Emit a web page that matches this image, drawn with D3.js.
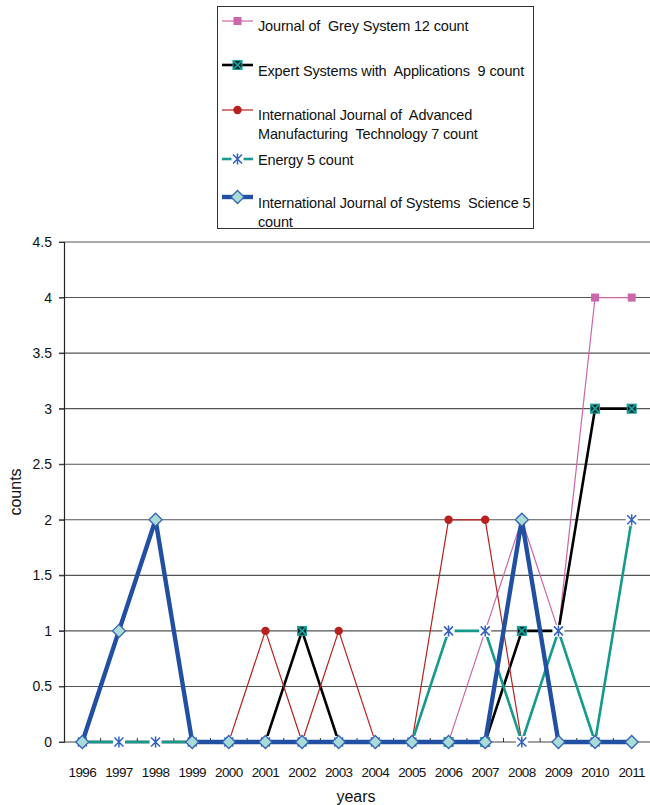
<!DOCTYPE html>
<html><head><meta charset="utf-8">
<script src="https://cdn.jsdelivr.net/npm/d3@7/dist/d3.min.js"></script>
<style>body{margin:0;background:#fff}svg{display:block;font-family:"Liberation Sans",Arial,sans-serif}</style>
</head><body><svg id="c" width="650" height="805"></svg>
<script>
const years = ["1996","1997","1998","1999","2000","2001","2002","2003","2004","2005","2006","2007","2008","2009","2010","2011"];
const greySystem   = [0,0,0,0,0,0,0,0,0,0,0,1,2,1,4,4];
const expertSys    = [0,0,0,0,0,0,1,0,0,0,0,0,1,1,3,3];
const ijamt        = [0,0,0,0,0,1,0,1,0,0,2,2,0,null,null,null];
const energy       = [0,0,0,0,0,0,0,0,0,0,1,1,0,1,0,2];
const ijss         = [0,1,2,0,0,0,0,0,0,0,0,0,2,0,0,0];
const yTicks = [0,0.5,1,1.5,2,2.5,3,3.5,4,4.5];
const seriesNames = [
  ["Journal of  Grey System 12 count"],
  ["Expert Systems with  Applications  9 count"],
  ["International Journal of  Advanced","Manufacturing  Technology 7 count"],
  ["Energy 5 count"],
  ["International Journal of Systems  Science 5","count"]
];

const series = [
  {vals: greySystem, color:"#CC66AA", width:1.2, marker:"square"},
  {vals: expertSys,  color:"#000000", width:2.6, marker:"xsquare"},
  {vals: ijamt,      color:"#B8201E", width:1.2, marker:"circle"},
  {vals: energy,     color:"#159A8C", width:2.6, marker:"star"},
  {vals: ijss,       color:"#2150A3", width:4.4, marker:"diamond"}
];

const svg = d3.select("#c");
const L=64, R=650, T=242, B=742;
const x = d3.scaleBand().domain(years).range([L,R]);
const y = d3.scaleLinear().domain([0,4.5]).range([B,T]);

svg.append("g").selectAll("line").data(yTicks.filter(d=>d>0)).join("line")
  .attr("x1",L-5).attr("x2",R).attr("y1",d=>y(d)).attr("y2",d=>y(d))
  .attr("stroke","#555").attr("stroke-width",1.1);

const yAxis = d3.axisLeft(y).tickValues(yTicks).tickSize(5).tickPadding(7).tickFormat(d=>String(d));
const gy = svg.append("g").attr("transform",`translate(${L},0)`).call(yAxis);
gy.select(".domain").attr("stroke","#222").attr("stroke-width",1.2);
gy.selectAll(".tick line").attr("stroke","#333");
gy.selectAll("text").attr("font-size","14px").attr("fill","#111").attr("font-family","Liberation Sans, Arial, sans-serif");

svg.append("line").attr("x1",L-5).attr("x2",R).attr("y1",B).attr("y2",B).attr("stroke","#444").attr("stroke-width",1.2);
svg.append("g").selectAll("line").data(years.slice(1)).join("line")
  .attr("x1",d=>x(d)).attr("x2",d=>x(d)).attr("y1",B).attr("y2",B-4).attr("stroke","#333");
const gx = svg.append("g").attr("transform",`translate(0,${B})`)
  .call(d3.axisBottom(x).tickSize(0).tickPadding(25));
gx.select(".domain").remove();
gx.selectAll("text").attr("font-size","13.5px").attr("fill","#111").attr("font-family","Liberation Sans, Arial, sans-serif").attr("letter-spacing","-0.6px");

svg.append("text").attr("x",356).attr("y",802).attr("text-anchor","middle").attr("font-size","16px").attr("fill","#111").text("years");
svg.append("text").attr("transform","translate(21,492) rotate(-90)").attr("text-anchor","middle").attr("font-size","16px").attr("fill","#111").text("counts");

function drawMarker(g, type, cx, cy){
  if(type==="square"){
    g.append("rect").attr("x",cx-4).attr("y",cy-4).attr("width",8).attr("height",8).attr("fill","#CC66AA");
  } else if(type==="xsquare"){
    g.append("rect").attr("x",cx-4.5).attr("y",cy-4.5).attr("width",9).attr("height",9).attr("fill","#062a28").attr("stroke","#1AA3A0").attr("stroke-width",1);
    g.append("path").attr("d",`M${cx-4.5},${cy-4.5}L${cx+4.5},${cy+4.5}M${cx+4.5},${cy-4.5}L${cx-4.5},${cy+4.5}`).attr("stroke","#1AA3A0").attr("stroke-width",1.6);
  } else if(type==="circle"){
    g.append("circle").attr("cx",cx).attr("cy",cy).attr("r",4.2).attr("fill","#B8201E");
  } else if(type==="star"){
    g.append("rect").attr("x",cx-6).attr("y",cy-6).attr("width",12).attr("height",12).attr("fill","#fff");
    g.append("path").attr("d",`M${cx-4.5},${cy-4.5}L${cx+4.5},${cy+4.5}M${cx+4.5},${cy-4.5}L${cx-4.5},${cy+4.5}M${cx},${cy-5.5}L${cx},${cy+5.5}`)
      .attr("stroke","#3060C0").attr("stroke-width",1.5).attr("fill","none");
  } else if(type==="diamond"){
    g.append("path").attr("d",`M${cx},${cy-6.5}L${cx+6.5},${cy}L${cx},${cy+6.5}L${cx-6.5},${cy}Z`)
      .attr("fill","#A9DCD6").attr("stroke","#3563B5").attr("stroke-width",1.3);
  }
}

const line = d3.line().defined(d=>d!==null).x((d,i)=>x(years[i])+x.bandwidth()/2).y(d=>y(d));
series.forEach(s=>{
  const g = svg.append("g");
  g.append("path").datum(s.vals).attr("d",line).attr("fill","none")
    .attr("stroke",s.color).attr("stroke-width",s.width).attr("stroke-linejoin","miter");
  s.vals.forEach((v,i)=>{ if(v!==null) drawMarker(g, s.marker, x(years[i])+x.bandwidth()/2, y(v)); });
});

const lg = svg.append("g");
lg.append("rect").attr("x",217.5).attr("y",6.5).attr("width",316).attr("height",222).attr("fill","#fff").attr("stroke","#333").attr("stroke-width",1);
const legY = [21, 65, 110, 159, 197];
const textY = [[31],[76],[120,139],[165],[208,227]];
series.forEach((s,i)=>{
  lg.append("line").attr("x1",222).attr("x2",253).attr("y1",legY[i]).attr("y2",legY[i]).attr("stroke",s.color).attr("stroke-width",s.width);
  drawMarker(lg, s.marker, 237.5, legY[i]);
  seriesNames[i].forEach((t,j)=>{
    lg.append("text").attr("x",258).attr("y",textY[i][j]).attr("font-size","14.5px").attr("fill","#111")
      .attr("letter-spacing","-0.15px").style("white-space","pre").text(t);
  });
});
</script></body></html>
